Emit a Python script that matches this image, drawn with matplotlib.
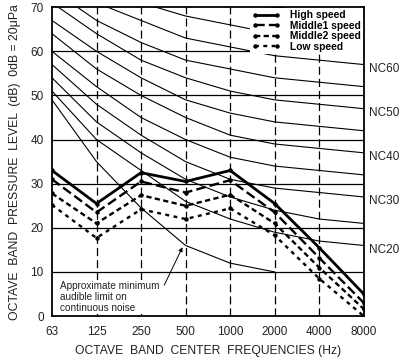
"""NC curves with fan noise spectra at four speeds."""

import matplotlib

matplotlib.use("Agg")
import matplotlib.pyplot as plt

plt.rcParams["font.family"] = ["Liberation Sans", "DejaVu Sans"]
plt.rcParams["lines.scale_dashes"] = False

freq_labels = ["63", "125", "250", "500", "1000", "2000", "4000", "8000"]

# NC curves (dB per octave band)
nc20 = [51, 40, 33, 26, 22, 19, 17, 16]
nc25 = [54, 44, 37, 31, 27, 24, 22, 21]
nc30 = [57, 48, 41, 35, 31, 29, 28, 27]
nc35 = [60, 52, 45, 40, 36, 34, 33, 32]
nc40 = [64, 56, 50, 45, 41, 39, 38, 37]
nc45 = [67, 60, 54, 49, 46, 44, 43, 42]
nc50 = [71, 64, 58, 54, 51, 49, 48, 47]
nc55 = [74, 67, 62, 58, 56, 54, 53, 52]
nc60 = [77, 71, 67, 63, 61, 59, 58, 57]
nc65 = [80, 75, 71, 68, 66, 64, 63, 62]
nc70 = [83, 79, 75, 72, 71, 70, 69, 68]
nc_labelled = ["NC60", "NC50", "NC40", "NC30", "NC20"]

# approximate minimum audible limit (63 .. 2000 Hz)
audible_limit = [49, 35, 24.5, 16, 12, 10]

# measured spectra
high_speed = [33, 25.5, 32.5, 30.5, 33, 25.5, 15.5, 5]
middle1_speed = [31, 23.5, 30.5, 28, 30.8, 23.5, 13.2, 3]
middle2_speed = [27.8, 21, 27.4, 25, 27.5, 21, 11, 1.6]
low_speed = [25.2, 17.7, 24.2, 22, 24.4, 18.3, 8.5, 0]

x = list(range(len(freq_labels)))

fig = plt.figure(figsize=(4.06, 3.60), dpi=100)
ax = fig.add_axes([0.128, 0.122, 0.768, 0.858])

# grid: solid horizontal, dashed vertical
for level in range(10, 70, 10):
    ax.axhline(level, color="black", lw=0.9, zorder=1)
for xi in x[1:-1]:
    ax.axvline(xi, color="black", lw=0.9, ls=(0, (5.8, 2.9)), zorder=1)

nc_curves = [nc20, nc25, nc30, nc35, nc40, nc45, nc50, nc55, nc60, nc65, nc70]
for curve in nc_curves:
    ax.plot(x, curve, color="black", lw=0.8, zorder=2)

for curve, name in zip([nc60, nc50, nc40, nc30, nc20], nc_labelled):
    ax.annotate(name, xy=(x[-1], curve[-1] - 1), xytext=(4, 0),
                textcoords="offset points", ha="left", va="center",
                fontsize=8.5, color="#222222", annotation_clip=False)

ax.plot(x[:len(audible_limit)], audible_limit, color="black", lw=0.8, zorder=2)

series = [
    (high_speed, "High speed", "-", 2.0),
    (middle1_speed, "Middle1 speed", (0, (7, 3)), 1.7),
    (middle2_speed, "Middle2 speed", (0, (3.8, 2.4)), 1.7),
    (low_speed, "Low speed", (0, (2.8, 3.2)), 1.7),
]
for values, label, style, lw in series:
    ax.plot(x, values, color="black", ls=style, lw=lw, marker="o",
            markersize=2.2, label=label, zorder=3)

ax.text(0.17, 7.9,
        "Approximate minimum\naudible limit on\ncontinuous noise",
        fontsize=7.2, va="top", ha="left", linespacing=1.1, zorder=4,
        color="#222222",
        bbox={"boxstyle": "square,pad=0.15", "facecolor": "white",
              "edgecolor": "none"})
ax.annotate("", xy=(2.93, 15.6), xytext=(2.52, 7.0),
            arrowprops={"arrowstyle": "-|>", "color": "black", "lw": 0.7,
                        "mutation_scale": 6, "shrinkA": 0, "shrinkB": 0},
            zorder=4)

leg = ax.legend(loc="upper right", handlelength=2.8,
                labelspacing=0.05, borderpad=0.2, borderaxespad=0.1,
                handletextpad=0.9, numpoints=2, frameon=True, fancybox=False,
                prop={"weight": "bold", "size": 7.4})
leg.get_frame().set_facecolor("white")
leg.get_frame().set_edgecolor("none")
leg.get_frame().set_alpha(1.0)

ax.set_xlim(0, len(x) - 1)
ax.set_ylim(0, 70)
ax.set_xticks(x)
ax.set_xticklabels(freq_labels)
ax.set_yticks(range(0, 80, 10))
ax.tick_params(length=0, labelsize=8.5, colors="#222222")
ax.tick_params(axis="x", pad=7)
ax.tick_params(axis="y", pad=6)
for side in ["left", "bottom", "right", "top"]:
    ax.spines[side].set_linewidth(1.3)

ax.set_xlabel("OCTAVE  BAND  CENTER  FREQUENCIES (Hz)", fontsize=8.7,
              labelpad=5, color="#222222")
ax.set_ylabel("OCTAVE  BAND  PRESSURE  LEVEL  (dB)  0dB = 20\u03bcPa",
              fontsize=8.8, labelpad=7, color="#222222")

fig.savefig("out.png", dpi=100, facecolor="white")
